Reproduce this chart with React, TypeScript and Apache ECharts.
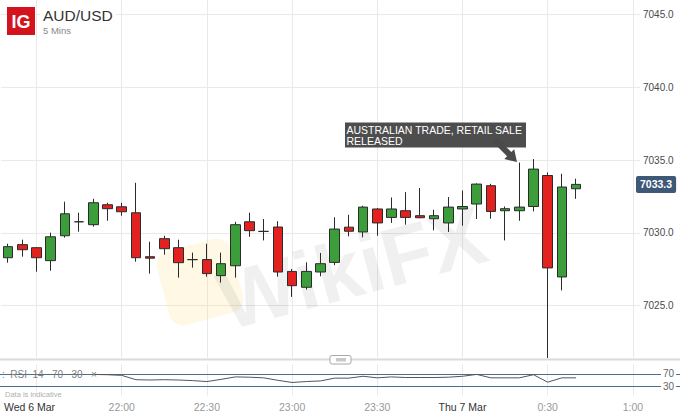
import React, { useEffect, useRef } from "react";
import * as echarts from "echarts";

const CATEGORIES = [
  "21:20", "21:25", "21:30", "21:35", "21:40", "21:45", "21:50", "21:55",
  "22:00", "22:05", "22:10", "22:15", "22:20", "22:25", "22:30", "22:35", "22:40", "22:45", "22:50", "22:55",
  "23:00", "23:05", "23:10", "23:15", "23:20", "23:25", "23:30", "23:35", "23:40", "23:45", "23:50", "23:55",
  "0:00", "0:05", "0:10", "0:15", "0:20", "0:25", "0:30", "0:35", "0:40", "0:45", "0:50", "0:55", "1:00",
];

const LABEL_TIMES = ["21:30", "22:00", "22:30", "23:00", "23:30", "0:00", "0:30", "1:00"];
const DATE_LABELS: Record<string, string> = { "21:30": "Wed 6 Mar", "0:00": "Thu 7 Mar" };

const OPEN = [
  7028.29, 7029.19, 7028.98, 7028.09, 7029.8, 7030.76, 7030.56, 7031.93, 7031.79, 7031.38,
  7028.36, 7029.6, 7028.98, 7028.16, 7028.16, 7027.06, 7027.74, 7030.76, 7030.1, 7030.4,
  7027.35, 7026.26, 7027.31, 7027.97, 7030.39, 7030.06, 7031.64, 7031.06, 7031.52, 7031.18,
  7030.97, 7030.68, 7031.64, 7031.98, 7033.24, 7031.52, 7031.52, 7031.81, 7033.94, 7026.97,
  7033.03,
];
const CLOSE = [
  7029.05, 7028.84, 7028.29, 7029.73, 7031.31, 7030.76, 7032.07, 7031.66, 7031.45, 7028.29,
  7028.26, 7028.91, 7027.95, 7028.16, 7027.2, 7027.88, 7030.56, 7030.15, 7030.1, 7027.31,
  7026.37, 7027.35, 7027.88, 7030.26, 7030.11, 7031.77, 7030.68, 7031.64, 7031.06, 7031.04,
  7031.18, 7031.77, 7031.81, 7033.35, 7031.47, 7031.66, 7031.77, 7034.38, 7027.59, 7033.15,
  7033.33,
];
const LOW = [
  7027.95, 7028.36, 7027.33, 7027.4, 7029.67, 7030.08, 7030.42, 7030.83, 7031.18, 7028.02,
  7027.2, 7028.5, 7026.92, 7027.61, 7026.99, 7026.58, 7026.92, 7029.73, 7029.48, 7026.99,
  7025.6, 7026.1, 7027.01, 7027.78, 7029.76, 7029.69, 7029.8, 7030.68, 7030.56, 7031.0,
  7030.17, 7030.06, 7030.49, 7030.95, 7030.97, 7029.48, 7030.83, 7031.47, 7021.4, 7026.05,
  7032.34,
];
const HIGH = [
  7029.25, 7029.53, 7029.0, 7030.01, 7032.14, 7031.38, 7032.34, 7032.07, 7032.07, 7033.44,
  7029.39, 7029.8, 7029.53, 7028.64, 7029.25, 7028.64, 7030.76, 7031.38, 7030.95, 7030.8,
  7027.52, 7027.97, 7028.62, 7031.07, 7031.24, 7031.86, 7031.7, 7032.43, 7032.8, 7033.08,
  7031.59, 7032.46, 7032.91, 7033.4, 7033.37, 7031.81, 7034.83, 7035.07, 7034.15, 7034.06,
  7033.72,
];

const RSI = [
  null, null, null, null, null, null, 68, 67, 65, 51,
  50, 51, 50, 48, 45, 52, 60, 59, 57, 49,
  42, 45, 47, 56, 56, 62, 57, 60, 58, 58,
  58, 59, 62, 68, 57, 57, 57, 67, 43, 57,
  57,
];
const RSI_LEVELS = [70, 30];

const Y_MIN = 7021.4;
const Y_MAX = 7046.0;

const GREEN = "#3c9e3a";
const RED = "#e3211e";
const EDGE = "#2b2b2b";
const GRID_COLOR = "#e9e9e9";
const FONT = "Liberation Sans, Arial, sans-serif";

export default function App() {
  const ref = useRef<HTMLDivElement>(null);

  useEffect(() => {
    if (!ref.current) return;
    const chart = echarts.init(ref.current, null, { renderer: "svg" });
    const candles = OPEN.map((o, i) => [o, CLOSE[i], LOW[i], HIGH[i]]);
    const lastClose = CLOSE[CLOSE.length - 1];
    const isGridTime = (_i: number, v: string) => LABEL_TIMES.indexOf(v) >= 0;

    const option: any = {
      animation: false,
      backgroundColor: "#ffffff",
      textStyle: { fontFamily: FONT },
      grid: [
        { left: 1, right: 40, top: 0, height: 358, outerBoundsMode: "none", containLabel: false },
        { left: 1, right: 40, top: 364.5, height: 31, outerBoundsMode: "none", containLabel: false },
        { left: 0, right: 0, top: 364.5, height: 31, outerBoundsMode: "none", containLabel: false },
      ],
      xAxis: [
        {
          type: "category",
          gridIndex: 0,
          data: CATEGORIES,
          boundaryGap: true,
          axisLine: { show: false },
          axisTick: { show: false, alignWithLabel: true },
          axisLabel: { show: false },
          splitLine: {
            show: true,
            alignWithLabel: true,
            interval: isGridTime,
            lineStyle: { color: GRID_COLOR, width: 1 },
          },
        },
        {
          type: "category",
          gridIndex: 1,
          data: CATEGORIES,
          boundaryGap: true,
          axisLine: { show: false },
          axisTick: { show: false, alignWithLabel: true },
          axisLabel: {
            show: true,
            interval: isGridTime,
            margin: 6,
            fontSize: 10,
            formatter: (v: string) =>
              DATE_LABELS[v]
                ? v === "21:30"
                  ? `{d|${DATE_LABELS[v]}}{p|}`
                  : `{d|${DATE_LABELS[v]}}`
                : `{t|${v}}`,
            rich: {
              d: { color: "#333333", fontSize: 10.5 },
              t: { color: "#999999", fontSize: 10.5 },
              p: { width: 14 },
            },
          },
          splitLine: {
            show: true,
            alignWithLabel: true,
            interval: isGridTime,
            lineStyle: { color: GRID_COLOR, width: 1 },
          },
        },
        { type: "value", gridIndex: 2, min: 0, max: 1, show: false },
      ],
      yAxis: [
        {
          type: "value",
          gridIndex: 0,
          position: "right",
          min: Y_MIN,
          max: Y_MAX,
          axisLine: { show: false },
          axisTick: { show: false },
          axisLabel: {
            color: "#4a4a4a",
            fontSize: 10,
            margin: 3,
            showMinLabel: false,
            showMaxLabel: false,
            formatter: (v: number) => v.toFixed(1),
          },
          splitLine: {
            show: true,
            showMinLine: false,
            showMaxLine: false,
            lineStyle: { color: GRID_COLOR, width: 1 },
          },
        },
        { type: "value", gridIndex: 1, min: 0, max: 100, show: false, splitLine: { show: false } },
        { type: "value", gridIndex: 2, min: 0, max: 100, show: false, splitLine: { show: false } },
      ],
      graphic: [
        {
          type: "rect",
          z: 1,
          silent: true,
          x: 200,
          y: 282,
          rotation: 0.26,
          shape: { x: -38, y: -38, width: 76, height: 76, r: 14 },
          style: { fill: "rgba(250, 215, 110, 0.18)" },
        },
        {
          type: "text",
          z: 1,
          silent: true,
          x: 352,
          y: 268,
          rotation: 0.26,
          style: {
            text: "WikiFX",
            fontSize: 82,
            fontWeight: "bold",
            fontFamily: FONT,
            fill: "rgba(0, 0, 0, 0.06)",
            align: "center",
            verticalAlign: "middle",
          },
        },
        {
          type: "rect",
          z: 50,
          silent: true,
          shape: { x: 0, y: 358.5, width: 680, height: 2 },
          style: { fill: "#dadada" },
        },
        {
          type: "rect",
          z: 51,
          silent: true,
          shape: { x: 330, y: 355.5, width: 21, height: 8.5, r: 2 },
          style: { fill: "#ffffff", stroke: "#a8a8a8", lineWidth: 1 },
        },
        {
          type: "rect",
          z: 52,
          silent: true,
          shape: { x: 336, y: 358, width: 10, height: 3.5 },
          style: { fill: "#c9c9c9" },
        },
        {
          type: "rect",
          z: 50,
          silent: true,
          shape: { x: 40, y: 6, width: 76, height: 32 },
          style: { fill: "#ffffff" },
        },
        {
          type: "rect",
          z: 51,
          silent: true,
          shape: { x: 7, y: 7, width: 28, height: 28 },
          style: { fill: "#d3141c" },
        },
        {
          type: "text",
          z: 52,
          silent: true,
          x: 21,
          y: 22,
          style: {
            text: "IG",
            fontSize: 18,
            fontWeight: "bold",
            fontFamily: FONT,
            fill: "#ffffff",
            align: "center",
            verticalAlign: "middle",
          },
        },
        {
          type: "text",
          z: 52,
          silent: true,
          x: 43,
          y: 15,
          style: {
            text: "AUD/USD",
            fontSize: 15.5,
            fontFamily: FONT,
            fill: "#333333",
            align: "left",
            verticalAlign: "middle",
          },
        },
        {
          type: "text",
          z: 52,
          silent: true,
          x: 43,
          y: 30.5,
          style: {
            text: "5 Mins",
            fontSize: 9.5,
            fontFamily: FONT,
            fill: "#888888",
            align: "left",
            verticalAlign: "middle",
          },
        },
        {
          type: "text",
          z: 52,
          silent: true,
          x: 2,
          y: 374,
          style: {
            text: ":  RSI  14   70   30   \u00d7",
            fontSize: 10,
            fontFamily: FONT,
            fill: "#808080",
            align: "left",
            verticalAlign: "middle",
          },
        },
        {
          type: "text",
          z: 52,
          silent: true,
          x: 5,
          y: 394,
          style: {
            text: "Data is indicative",
            fontSize: 7.5,
            fontFamily: FONT,
            fill: "#b0b0b0",
            align: "left",
            verticalAlign: "middle",
          },
        },
        {
          type: "rect",
          z: 60,
          silent: true,
          shape: { x: 345, y: 122.5, width: 181, height: 25 },
          style: { fill: "#4d4d4d" },
        },
        {
          type: "text",
          z: 61,
          silent: true,
          x: 346.5,
          y: 125,
          style: {
            text: "AUSTRALIAN TRADE, RETAIL SALES\nRELEASED",
            fontSize: 10.5,
            lineHeight: 10.5,
            fontFamily: FONT,
            fill: "#ffffff",
            align: "left",
            verticalAlign: "top",
            width: 179,
            overflow: "truncate",
            ellipsis: "",
          },
        },
        {
          type: "polygon",
          z: 61,
          silent: true,
          shape: {
            points: [
              [497.1, 137.9],
              [511.3, 152.1],
              [514.2, 149.3],
              [517, 162],
              [504.3, 159.1],
              [507.1, 156.3],
              [492.9, 142.1],
            ],
          },
          style: { fill: "#4a4a4a" },
        },
      ],
      series: [
        {
          type: "candlestick",
          xAxisIndex: 0,
          yAxisIndex: 0,
          data: candles,
          barWidth: 10,
          z: 5,
          itemStyle: {
            color: GREEN,
            color0: RED,
            borderColor: EDGE,
            borderColor0: EDGE,
            borderColorDoji: EDGE,
            borderWidth: 1,
          },
          markLine: {
            silent: true,
            symbol: ["none", "none"],
            lineStyle: { color: "transparent", width: 0 },
            label: {
              show: true,
              position: "end",
              distance: -4,
              formatter: (p: any) => Number(p.value).toFixed(1),
              color: "#ffffff",
              fontWeight: "bold",
              fontSize: 10.5,
              backgroundColor: "#3e5877",
              borderRadius: 2,
              padding: [3, 4, 3, 4],
            },
            data: [{ yAxis: lastClose }],
          },
        },
        {
          type: "line",
          xAxisIndex: 1,
          yAxisIndex: 1,
          data: RSI,
          symbol: "none",
          connectNulls: false,
          z: 6,
          lineStyle: { color: "#555555", width: 1 },
        },
        {
          type: "line",
          xAxisIndex: 2,
          yAxisIndex: 2,
          data: [[0, 50]],
          symbol: "none",
          z: 4,
          lineStyle: { opacity: 0 },
          markLine: {
            silent: true,
            symbol: ["none", "none"],
            lineStyle: { color: "#4a6e90", width: 1, type: "solid" },
            label: {
              show: true,
              position: "end",
              distance: -19,
              formatter: (p: any) => String(p.value),
              color: "#666666",
              fontSize: 10,
              backgroundColor: "#ffffff",
              padding: [0, 2, 0, 2],
            },
            data: RSI_LEVELS.map((v) => ({ yAxis: v })),
          },
        },
      ],
    };

    chart.setOption(option);
    return () => chart.dispose();
  }, []);

  return (
    <div
      ref={ref}
      style={{ position: "fixed", left: 0, top: 0, width: 680, height: 415 }}
    />
  );
}
